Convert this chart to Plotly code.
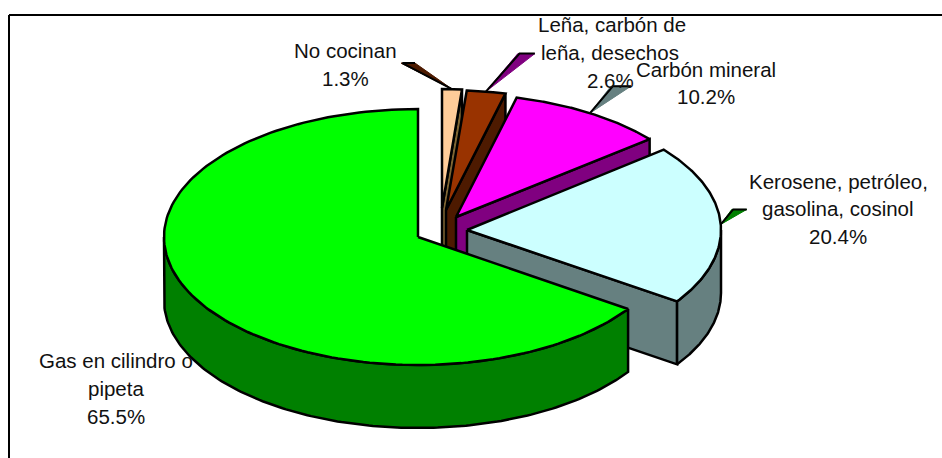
import numpy as np
import plotly.graph_objects as go

# order is the order of drawing: green goes last because it covers the others
categories = ["No cocinan", "Leña, carbón de leña, desechos", "Carbón mineral",
              "Kerosene, petróleo, gasolina, cosinol", "Gas en cilindro o pipeta"]
percent = [1.3, 2.6, 10.2, 20.4, 65.5]
percent_labels = ["1.3%", "2.6%", "10.2%", "20.4%", "65.5%"]

top_colors = ["#FFCC99", "#993300", "#FF00FF", "#CCFFFF", "#00FF00"]
side_colors = ["#806633", "#4D1A00", "#800080", "#668080", "#008000"]
leader_colors = ["#4D1A00", "#800080", "#668080", "#008000"]

# the axes run in picture pixels, so these are layout settings per slice
apex_x = [442, 446, 456, 467, 418]
apex_y = [208, 210, 217, 230, 237]
radius_x = [245, 245, 250, 254, 254]
radius_y = [119, 120, 123, 127, 128]
depth = 63

# where each leader ends, relative to its point on the rim
leader_dx = [-51, 32, 21, 11]
leader_dy = [-26, -38, -27, -15]
leader_width = [14, 17, 20, 15]

# label lines, (text, x centre, y centre)
label_lines = [
    [("No cocinan", 345, 50), ("1.3%", 345, 78)],
    [("Leña, carbón de", 612, 24), ("leña, desechos", 610, 52), ("2.6%", 610, 80)],
    [("Carbón mineral", 706, 69), ("10.2%", 706, 96)],
    [("Kerosene, petróleo,", 838, 181), ("gasolina, cosinol", 838, 208), ("20.4%", 838, 236)],
    [("Gas en cilindro o", 116, 360), ("pipeta", 116, 388), ("65.5%", 116, 416)],
]

# clockwise from the top, in degrees: green starts at 124.2 and runs over the top
shares = np.array(percent) / sum(percent) * 360
starts = np.cumsum(np.r_[0, shares[:-1]])


def rim(i, angles):
    a = np.radians(angles)
    return apex_x[i] + radius_x[i] * np.sin(a), apex_y[i] - radius_y[i] * np.cos(a)


def shape(fig, x, y, color, width=2.5):
    fig.add_trace(go.Scatter(x=x, y=y, mode="lines", fill="toself", fillcolor=color,
                             line=dict(color="black", width=width),
                             hoverinfo="skip", showlegend=False))


fig = go.Figure()

# leaders go under the pie
for i in range(4):
    mx, my = rim(i, starts[i] + shares[i] / 2)
    tx = mx + leader_dx[i]
    ty = my + leader_dy[i]
    fig.add_trace(go.Scatter(x=[mx, tx, tx + leader_width[i], mx], y=[my, ty, ty, my],
                             mode="lines", fill="toself", fillcolor=leader_colors[i],
                             line=dict(color=leader_colors[i], width=1),
                             hoverinfo="skip", showlegend=False))
    fig.add_trace(go.Scatter(x=[mx, tx + leader_width[i] * 0.1, tx + leader_width[i]],
                             y=[my, ty, ty], mode="lines",
                             line=dict(color="black", width=2),
                             hoverinfo="skip", showlegend=False))

for i in range(5):
    a0 = starts[i]
    a1 = a0 + shares[i]
    ax, ay = rim(i, np.linspace(a0, a1, 160))

    # cut face at the end of the slice (left out for green, it faces away)
    if i < 4:
        ex, ey = rim(i, a1)
        shape(fig,
              [apex_x[i], ex, ex, apex_x[i], apex_x[i]],
              [apex_y[i], ey, ey + depth, apex_y[i] + depth, apex_y[i]],
              side_colors[i])

    # outer wall, only the front half of the rim
    lo = max(a0, 90)
    hi = min(a1, 270)
    if hi > lo:
        wx, wy = rim(i, np.linspace(lo, hi, 160))
        shape(fig, np.r_[wx, wx[::-1], wx[0]], np.r_[wy, wy[::-1] + depth, wy[0]], side_colors[i])

    shape(fig, np.r_[apex_x[i], ax, apex_x[i]], np.r_[apex_y[i], ay, apex_y[i]], top_colors[i])

annotations = []
for lines in label_lines:
    for text, x, y in lines:
        annotations.append(dict(x=x, y=y, text=text, showarrow=False, xanchor="center", yanchor="middle",
                                font=dict(family="Liberation Sans, Arial, sans-serif", size=20.5, color="#111111")))

fig.update_layout(
    width=942, height=458, margin=dict(l=0, r=0, t=0, b=0),
    paper_bgcolor="white", plot_bgcolor="white", showlegend=False,
    xaxis=dict(range=[0, 942], visible=False, fixedrange=True),
    yaxis=dict(range=[458, 0], visible=False, fixedrange=True),
    annotations=annotations,
    shapes=[
        dict(type="line", x0=9, x1=942, y0=15, y1=15, line=dict(color="black", width=2)),
        dict(type="line", x0=9, x1=9, y0=15, y1=458, line=dict(color="black", width=2)),
    ],
)

# the page's default body margin would push the figure 8px in
fig.write_html("out.html", config={"displayModeBar": False},
               post_script="document.body.style.margin='0';document.body.style.overflow='hidden';")
